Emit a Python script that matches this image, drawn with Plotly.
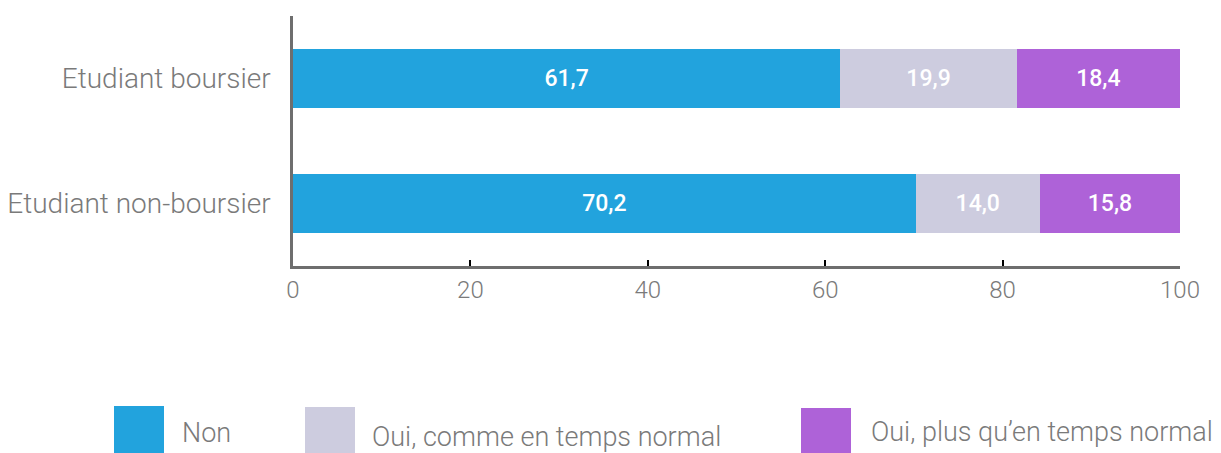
import plotly.graph_objects as go

categories = ["Etudiant boursier", "Etudiant non-boursier"]
series_names = ["Non", "Oui, comme en temps normal", "Oui, plus qu’en temps normal"]
non_vals = [61.7, 70.2]
comme_vals = [19.9, 14.0]
plus_vals = [18.4, 15.8]
colors = ["#22A3DD", "#CDCCDF", "#AE62D8"]
x_ticks = [0, 20, 40, 60, 80, 100]

W, H = 1221, 453
L, R, T, B = 293, 41, 16, 187
pw, ph = W - L - R, H - T - B

def px(x):
    return (x - L) / pw

def py(y):
    return (H - B - y) / ph

fig = go.Figure()
for name, vals, col in zip(series_names, [non_vals, comme_vals, plus_vals], colors):
    fig.add_trace(go.Bar(
        y=categories, x=vals, name=name, orientation="h",
        marker=dict(color=col, line=dict(width=0)),
        width=0.47,
        texttemplate="%{x:.1f}", textposition="inside",
        insidetextanchor="middle",
        textfont=dict(family="Roboto", size=23, color="white", weight=500),
        showlegend=False,
    ))

fig.update_layout(
    barmode="stack",
    width=W, height=H,
    margin=dict(l=L, r=R, t=T, b=B, autoexpand=False),
    paper_bgcolor="white", plot_bgcolor="white",
    separators=", ",
    font=dict(family="Roboto", color="#7a7a7a", weight=300),
    xaxis=dict(
        range=[0, 100], tickvals=x_ticks, showgrid=False, zeroline=False,
        showline=True, linecolor="#6e6e6e", linewidth=2.5,
        ticks="inside", ticklen=6, tickwidth=2, tickcolor="black",
        tickfont=dict(family="Roboto", size=24, color="#7a7a7a", weight=300),
        fixedrange=True, automargin=False,
    ),
    yaxis=dict(
        autorange=False, range=[1.5, -0.5], showgrid=False, zeroline=False,
        showline=True, linecolor="#6e6e6e", linewidth=2.5, ticks="",
        ticklabelstandoff=14,
        tickfont=dict(family="Roboto", size=28, color="#7a7a7a", weight=300),
        fixedrange=True, automargin=False,
    ),
)

# custom legend
boxes = [(114, 164, 406, 453), (305, 355, 407, 453), (801, 851, 408, 453)]
texts = [(180, 433), (370, 437), (869, 432)]
for (x0, x1, y0, y1), (tx, ty), name, col in zip(boxes, texts, series_names, colors):
    fig.add_shape(type="rect", xref="paper", yref="paper",
                  x0=px(x0), x1=px(x1), y0=py(y1), y1=py(y0),
                  fillcolor=col, line=dict(width=0))
    fig.add_annotation(xref="paper", yref="paper", x=px(tx), y=py(ty),
                       xanchor="left", yanchor="middle", showarrow=False,
                       text=name,
                       font=dict(family="Roboto", size=27, color="#7a7a7a", weight=300))

fig.write_html("out.html", config={"displayModeBar": False},
               post_script="document.body.style.margin='0';document.body.style.overflow='hidden';")
